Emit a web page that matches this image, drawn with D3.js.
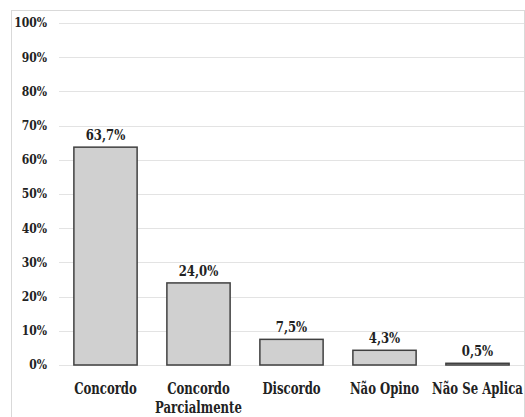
<!DOCTYPE html>
<html>
<head>
<meta charset="utf-8">
<script src="https://cdn.jsdelivr.net/npm/d3@7"></script>
<style>
  html, body { margin: 0; padding: 0; background: #fff; }
  svg { display: block; }
</style>
</head>
<body>
<svg id="chart" width="525" height="417"></svg>
<script>
const categories = ["Concordo", "Concordo\nParcialmente", "Discordo", "Não Opino", "Não Se Aplica"];
const values = [63.7, 24.0, 7.5, 4.3, 0.5];
const valueLabels = ["63,7%", "24,0%", "7,5%", "4,3%", "0,5%"];
const yTicks = [0, 10, 20, 30, 40, 50, 60, 70, 80, 90, 100];

const FONT = "'DejaVu Serif Condensed', 'DejaVu Serif', serif";

const svg = d3.select("#chart");
const W = 525, H = 417;
const margin = { left: 59, right: 1, top: 23, bottom: 52 };

// outer chart border
svg.append("rect")
  .attr("x", 11.5).attr("y", 10.5)
  .attr("width", W - 12).attr("height", H)
  .attr("fill", "none").attr("stroke", "#d9d9d9").attr("stroke-width", 1);

const x = d3.scaleBand()
  .domain(categories)
  .range([margin.left, W - margin.right])
  .paddingInner(0.32)
  .paddingOuter(0.16);

const y = d3.scaleLinear()
  .domain([0, 100])
  .range([H - margin.bottom, margin.top]);

// gridlines
svg.append("g")
  .selectAll("line")
  .data(yTicks)
  .join("line")
  .attr("x1", margin.left).attr("x2", W - margin.right)
  .attr("y1", d => Math.round(y(d)) + 0.5).attr("y2", d => Math.round(y(d)) + 0.5)
  .attr("stroke", "#e3e3e3").attr("stroke-width", 1);

// y axis labels
const yAxis = d3.axisLeft(y).tickValues(yTicks).tickFormat(d => d + "%").tickSize(0).tickPadding(12);
const gy = svg.append("g").attr("transform", `translate(${margin.left},0)`).call(yAxis);
gy.select(".domain").remove();
gy.attr("font-family", null).attr("font-size", null);
gy.selectAll("text")
  .style("font-family", FONT)
  .style("font-weight", "bold")
  .style("font-size", "12px")
  .attr("fill", "#222");

// bars
svg.append("g")
  .selectAll("rect")
  .data(values)
  .join("rect")
  .attr("x", (d, i) => x(categories[i]))
  .attr("y", d => y(d))
  .attr("width", x.bandwidth())
  .attr("height", d => y(0) - y(d))
  .attr("fill", "#d0d0d0")
  .attr("stroke", "#404040")
  .attr("stroke-width", 1.5);

// value labels
svg.append("g")
  .selectAll("text")
  .data(values)
  .join("text")
  .attr("transform", (d, i) => `translate(${x(categories[i]) + x.bandwidth() / 2},${y(d) - 7}) scale(1,1.1)`)
  .attr("text-anchor", "middle")
  .style("font-family", FONT)
  .style("font-weight", "bold")
  .style("font-size", "13px")
  .attr("fill", "#222")
  .text((d, i) => valueLabels[i]);

// category labels
const xAxis = svg.append("g");
categories.forEach((c, i) => {
  const lines = c.split("\n");
  const t = xAxis.append("text")
    .attr("transform", `translate(${x(c) + x.bandwidth() / 2},${y(0) + 29}) scale(1,1.28)`)
    .attr("text-anchor", "middle")
    .style("font-family", FONT)
    .style("font-weight", "bold")
    .style("font-size", "13px")
    .attr("fill", "#222");
  lines.forEach((ln, j) => {
    t.append("tspan")
      .attr("x", 0)
      .attr("dy", j === 0 ? 0 : 15)
      .text(ln);
  });
});
</script>
</body>
</html>
